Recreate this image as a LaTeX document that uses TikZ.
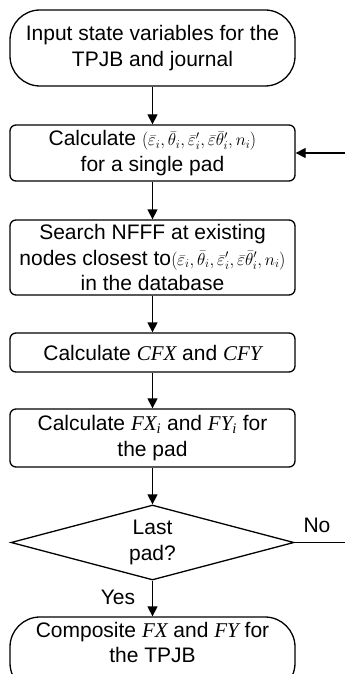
\documentclass[tikz,border=0pt]{standalone}
\usepackage{fontspec}
\setmainfont{Liberation Sans}
\newfontfamily\tms{Liberation Serif}
\usetikzlibrary{arrows.meta,shapes.geometric}
\newcommand{\tv}[1]{{\tms\itshape #1}}
\newcommand{\tup}{{\fontsize{18.5}{19}\selectfont$\left(\bar{\varepsilon}_i,\bar{\theta}_i,\bar{\varepsilon}'_i,\bar{\varepsilon}\bar{\theta}'_i,n_i\right)$}}
\begin{document}
\begin{tikzpicture}[x=1pt,y=-1pt,
  every node/.style={font=\fontsize{21}{25.5}\selectfont, align=center},
  base/.style={draw, line width=1.3pt, minimum width=285pt, inner sep=0pt},
  term/.style={base, rounded corners=30pt},
  procbox/.style={base, rounded corners=6pt},
  decis/.style={draw, line width=1.3pt, diamond, aspect=3.77, inner sep=0pt, minimum width=283pt, minimum height=75pt},
  arr/.style={line width=1.3pt, -{Triangle[length=10pt,width=10pt]}},
  lbl/.style={inner sep=0pt}]
\useasboundingbox (0,0) rectangle (345,674);
\clip (0,0) rectangle (345,674);
\node[term, minimum height=76pt] (n1) at (152.5,48) {Input state variables for the\\TPJB and journal};
\node[procbox, minimum height=56pt] (n2) at (152.5,153) {Calculate \tup\\for a single pad};
\node[procbox, minimum height=75pt] (n3) at (152.5,257.5) {Search NFFF at existing\\nodes closest to\tup\\in the database};
\node[procbox, minimum height=39pt] (n4) at (152.5,352.5) {Calculate \tv{CFX} and \tv{CFY}};
\node[procbox, minimum height=58pt] (n5) at (152.5,438) {Calculate \tv{FX\textsubscript{i}} and \tv{FY\textsubscript{i}} for\\the pad};
\node[decis] (d) at (152.5,542.5) {Last\\pad?};
\node[term, minimum height=76pt] (n6) at (152.5,655) {Composite \tv{FX} and \tv{FY} for\\the TPJB\\\mbox{}};
\node[lbl] (yes) at (118,597) {Yes};
\node[lbl] (no) at (317,525) {No};
\coordinate (r) at (350,0);
\draw[arr] (n1) -- (n2);
\draw[arr] (n2) -- (n3);
\draw[arr] (n3) -- (n4);
\draw[arr] (n4) -- (n5);
\draw[arr] (n5) -- (d);
\draw[arr] (d) -- (n6);
\draw[arr] (d.east) -- (d.east -| r) |- (n2.east);
\end{tikzpicture}
\end{document}
